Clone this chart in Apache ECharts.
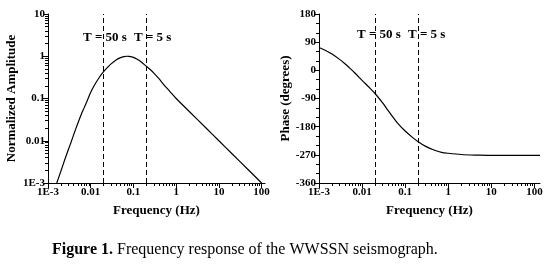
<!DOCTYPE html>
<html>
<head>
<meta charset="utf-8">
<script src="https://cdn.jsdelivr.net/npm/echarts@6/dist/echarts.min.js"></script>
<style>
html, body { margin: 0; padding: 0; background: #fff; }
#chart { width: 550px; height: 272px; }
</style>
</head>
<body>
<div id="chart"></div>
<script>
// amplitude curve
var freqAmp = [0.0016, 0.002, 0.0025, 0.003, 0.0035, 0.004, 0.005, 0.006, 0.007, 0.008, 0.01, 0.012, 0.015, 0.02, 0.025, 0.03, 0.04, 0.05, 0.06, 0.07, 0.08, 0.1, 0.12, 0.15, 0.2, 0.25, 0.3, 0.4, 0.5, 0.7, 1, 2, 5, 10, 20, 50, 100];
var amp = [0.001, 0.0019, 0.0037, 0.0062, 0.0095, 0.014, 0.026, 0.042, 0.06, 0.082, 0.14, 0.2, 0.29, 0.43, 0.55, 0.66, 0.83, 0.93, 0.98, 1.0, 0.99, 0.94, 0.86, 0.74, 0.58, 0.48, 0.4, 0.29, 0.22, 0.15, 0.1, 0.05, 0.02, 0.01, 0.005, 0.002, 0.001];

// phase curve
var freqPhase = [0.001, 0.0015, 0.002, 0.003, 0.004, 0.005, 0.007, 0.01, 0.015, 0.02, 0.03, 0.04, 0.05, 0.07, 0.1, 0.15, 0.2, 0.3, 0.5, 0.7, 1, 2, 5, 10, 135];
var phase = [73, 62, 52, 35, 21, 9, -10, -32, -56, -74, -104, -128, -146, -172, -194, -215, -228, -243, -256, -262, -265, -269, -271, -272, -272];

var freqTicks = [0.001, 0.01, 0.1, 1, 10, 100];
var ampTicks = [0.001, 0.01, 0.1, 1, 10];
var periodLines = [0.02, 0.2]; // T = 50 s, T = 5 s
var periodText = ['T = 50 s', 'T = 5 s'];

var serif = '"Liberation Serif", "DejaVu Serif", serif';

function minorTicks(lo, hi) {
	var out = [];
	for (var d = lo; d < hi; d *= 10) {
		for (var k = 2; k <= 9; k++) {
			var v = +(d * k).toPrecision(3);
			if (v < hi) out.push(v);
		}
	}
	return out;
}

function logLabel(v) {
	var e = Math.round(Math.log10(v));
	if (e <= -3) return '1E' + e;
	return String(+Math.pow(10, e).toPrecision(3));
}

var labelStyle = { color: '#000', fontFamily: serif, fontWeight: 'bold', fontSize: 11 };
var nameStyle = { color: '#000', fontFamily: serif, fontWeight: 'bold', fontSize: 13 };
var blackLine = { color: '#000', width: 1 };

function freqAxes(grid, max) {
	return [{
		type: 'log', gridIndex: grid, min: 0.001, max: max, position: 'bottom',
		name: 'Frequency (Hz)', nameLocation: 'middle', nameGap: 21, nameTextStyle: nameStyle,
		axisLine: { onZero: false, lineStyle: blackLine },
		axisTick: { customValues: freqTicks, length: 5, lineStyle: blackLine },
		axisLabel: Object.assign({ customValues: freqTicks, formatter: logLabel, margin: 4 }, labelStyle),
		splitLine: { show: false }
	}, {
		// minor ticks only
		type: 'log', gridIndex: grid, min: 0.001, max: max, position: 'bottom',
		axisLine: { show: false, onZero: false },
		axisTick: { show: true, customValues: minorTicks(0.001, max), length: 3, lineStyle: blackLine },
		axisLabel: { show: false },
		splitLine: { show: false }
	}];
}

function periodMarks() {
	return {
		silent: true,
		symbol: 'none',
		label: { show: false },
		lineStyle: { type: [5, 3], color: '#000', width: 1 },
		data: periodLines.map(function (v) { return { xAxis: v }; })
	};
}

function textAt(x, y, str) {
	return { type: 'text', left: x, top: y, style: { text: str, fill: '#000', font: 'bold 13px ' + serif } };
}

var myChart = echarts.init(document.getElementById('chart'));

myChart.setOption({
	animation: false,
	backgroundColor: '#fff',
	grid: [
		{ left: 48, top: 14, width: 217, height: 169 },
		{ left: 319, top: 14, width: 221, height: 169 }
	],
	xAxis: freqAxes(0, 120).concat(freqAxes(1, 135)),
	yAxis: [{
		type: 'log', gridIndex: 0, min: 0.001, max: 10,
		name: 'Normalized Amplitude', nameLocation: 'middle', nameGap: 30, nameTextStyle: nameStyle,
		axisLine: { onZero: false, lineStyle: blackLine },
		axisTick: { customValues: ampTicks, length: 5, lineStyle: blackLine },
		axisLabel: Object.assign({ customValues: ampTicks, formatter: logLabel, margin: 3 }, labelStyle),
		splitLine: { show: false }
	}, {
		type: 'log', gridIndex: 0, min: 0.001, max: 10, position: 'left',
		axisLine: { show: false, onZero: false },
		axisTick: { show: true, customValues: minorTicks(0.001, 10), length: 3, lineStyle: blackLine },
		axisLabel: { show: false },
		splitLine: { show: false }
	}, {
		type: 'value', gridIndex: 1, min: -360, max: 180, interval: 90,
		name: 'Phase (degrees)', nameLocation: 'middle', nameGap: 24, nameTextStyle: nameStyle,
		axisLine: { onZero: false, lineStyle: blackLine },
		axisTick: { length: 5, lineStyle: blackLine },
		minorTick: { show: true, splitNumber: 3, length: 3, lineStyle: blackLine },
		axisLabel: Object.assign({ margin: 3 }, labelStyle),
		splitLine: { show: false }
	}],
	series: [{
		type: 'line',
		xAxisIndex: 0, yAxisIndex: 0,
		data: freqAmp.map(function (f, i) { return [f, amp[i]]; }),
		showSymbol: false,
		smooth: 0.3,
		lineStyle: { color: '#000', width: 1.2 },
		markLine: periodMarks()
	}, {
		type: 'line',
		xAxisIndex: 2, yAxisIndex: 2,
		data: freqPhase.map(function (f, i) { return [f, phase[i]]; }),
		showSymbol: false,
		smooth: 0.3,
		lineStyle: { color: '#000', width: 1.2 },
		markLine: periodMarks()
	}],
	graphic: [
		textAt(83, 31, periodText[0]),
		textAt(134, 31, periodText[1]),
		textAt(357, 28, periodText[0]),
		textAt(408, 28, periodText[1]),
		{
			type: 'text', left: 52, top: 242,
			style: {
				text: '{b|Figure 1.} Frequency response of the WWSSN seismograph.',
				fill: '#000',
				font: '16px ' + serif,
				rich: { b: { fontWeight: 'bold', fontSize: 16, fontFamily: serif } }
			}
		}
	]
});
</script>
</body>
</html>
